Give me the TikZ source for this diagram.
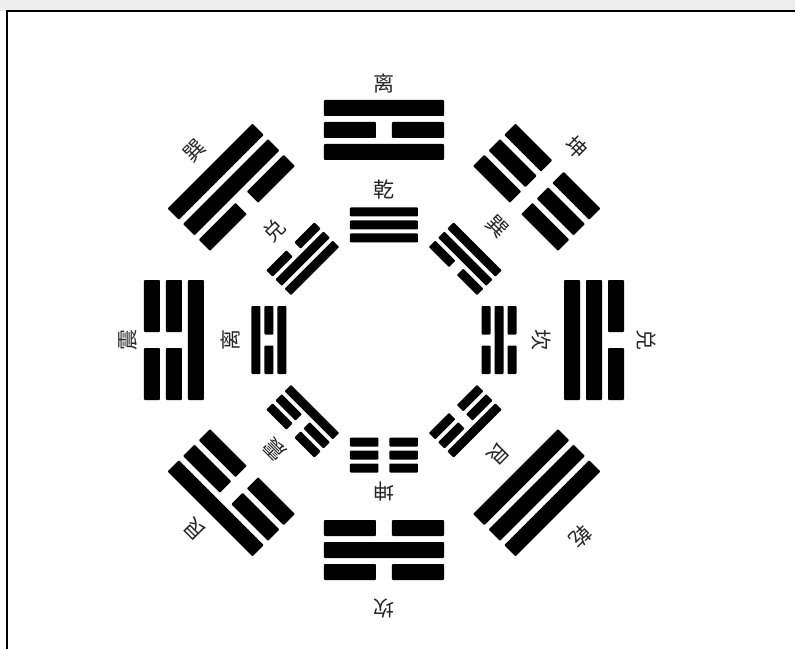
\documentclass[tikz,border=0pt]{standalone}
\usepackage{fontspec}
\newfontfamily\cjk{Noto Sans CJK SC}
\usepackage{tikz}

% one trigram: angle, radius, lines from the inside out
\newcommand{\gua}[5]{%
  \begin{scope}[rotate=#1-90, shift={(0,#2)}]
    \foreach \yv [count=\k] in {#3,#4,#5} {
      \pgfmathsetmacro{\yy}{(\k-2)*(\gt+\gg)}
      \ifnum\yv=1
        \fill[yao] (-\gw/2,\yy-\gt/2) rectangle (\gw/2,\yy+\gt/2);
      \else
        \fill[yao] (-\gw/2,\yy-\gt/2) rectangle (-\gs/2,\yy+\gt/2);
        \fill[yao] (\gs/2,\yy-\gt/2) rectangle (\gw/2,\yy+\gt/2);
      \fi
    }
  \end{scope}}

\begin{document}
\begin{tikzpicture}[x=1pt, y=1pt,
    yao/.style={black, rounded corners=0.8pt},
    guaname/.style={font=\cjk\fontsize{21}{21}\selectfont, inner sep=0pt, text=black!85},
    frame/.style={draw=black, line width=1.8pt}
]
% page and frame
\fill[white] (-384,-308) rectangle (411,340);
\fill[gray!14] (-384,329) rectangle (411,340);
\useasboundingbox (-384,-308) rectangle (411,340);
\draw[frame] (-377,-320) -- (-377,329) -- (420,329);

% outer ring
\def\gw{120}\def\gt{16}\def\gg{6}\def\gs{16}
\foreach \ang/\la/\lb/\lc/\nm/\lr [count=\n] in {
    90/1/0/1/离/257, 45/0/0/0/坤/272, 0/1/1/0/兑/262, -45/1/1/1/乾/278,
    -90/0/1/0/坎/268, -135/0/0/1/艮/268, 180/1/0/0/震/256, 135/0/1/1/巽/268} {
  \pgfmathsetmacro{\gr}{mod(\n,2)==0 ? 216 : 210}
  \gua{\ang}{\gr}{\la}{\lb}{\lc}
  \node[guaname, rotate=\ang-90] (outer\n) at (\ang:\lr) {\nm};
}

% inner ring
\def\gw{68}\def\gt{9}\def\gg{4}\def\gs{11}
\foreach \ang/\la/\lb/\lc/\nm/\lr [count=\n] in {
    90/1/1/1/乾/150, 45/0/1/1/巽/160, 0/0/1/0/坎/157, -45/0/0/1/艮/161,
    -90/0/0/0/坤/151, -135/1/0/0/震/155, 180/1/0/1/离/154, 135/1/1/0/兑/155} {
  \gua{\ang}{115}{\la}{\lb}{\lc}
  \node[guaname, rotate=\ang-90] (inner\n) at (\ang:\lr) {\nm};
}
\end{tikzpicture}
\end{document}
